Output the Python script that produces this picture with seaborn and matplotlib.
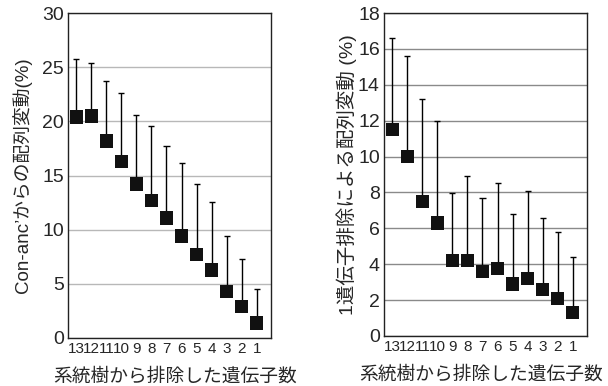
import pandas as pd
import matplotlib
matplotlib.use("Agg")
import matplotlib.pyplot as plt
import seaborn as sns

# removed gene count (x categories, left to right)
genes = ["13", "12", "11", "10", "9", "8", "7", "6", "5", "4", "3", "2", "1"]

# left panel: variation from Con-anc (%)
left_mean = [20.4, 20.5, 18.2, 16.3, 14.2, 12.7, 11.1, 9.4, 7.7, 6.3, 4.3, 2.9, 1.4]
left_top = [25.8, 25.4, 23.7, 22.6, 20.6, 19.6, 17.7, 16.2, 14.2, 12.6, 9.4, 7.3, 4.5]

# right panel: variation per single gene removal (%)
right_mean = [11.5, 10.0, 7.5, 6.3, 4.2, 4.2, 3.6, 3.75, 2.9, 3.2, 2.6, 2.1, 1.3]
right_top = [16.6, 15.6, 13.2, 12.0, 7.95, 8.9, 7.7, 8.55, 6.8, 8.1, 6.6, 5.8, 4.4]

sns.set_style("white")
plt.rcParams['font.family'] = ['Liberation Sans', 'Noto Sans CJK JP', 'DejaVu Sans']

fig = plt.figure(figsize=(6.08, 3.86), dpi=100)
W, H = 608, 386
ax1 = fig.add_axes([68 / W, 1 - 338 / H, 203 / W, 325 / H])
ax2 = fig.add_axes([384 / W, 1 - 336 / H, 203 / W, 323 / H])


def panel(ax, mean, top, ymax, step, gridcol, ylabel, ylab_x, ylab_size, xlab_x):
    df = pd.DataFrame({"n": genes, "mean": mean, "top": top})
    df["pos"] = range(len(df))
    ax.set_axisbelow(True)
    ax.yaxis.grid(True, color=gridcol, lw=1.0)
    ax.vlines(df["pos"], df["mean"], df["top"], color="black", lw=1.0, zorder=2)
    ax.hlines(df["top"], df["pos"] - 0.2, df["pos"] + 0.2, color="black", lw=1.0, zorder=2)
    sns.scatterplot(data=df, x="pos", y="mean", marker="s", s=95, color="#111111",
                    edgecolor="none", ax=ax, zorder=3)
    ax.set_xlim(-0.55, 12.95)
    ax.set_ylim(0, ymax)
    ax.set_yticks(range(0, ymax + 1, step))
    ax.set_xticks(df["pos"])
    ax.set_xticklabels(df["n"])
    ax.tick_params(axis="y", length=0, labelsize=14, pad=3)
    ax.tick_params(axis="x", length=0, labelsize=11, pad=3)
    ax.set_xlabel("系統樹から排除した遺伝子数", fontsize=13.5)
    ax.xaxis.set_label_coords(xlab_x, -0.12)
    ax.xaxis.label.set_va("center")
    ax.set_ylabel(ylabel, fontsize=ylab_size)
    ax.yaxis.set_label_coords(ylab_x, 0.5)
    ax.yaxis.label.set_va("center")
    for sp in ax.spines.values():
        sp.set_visible(True)
        sp.set_color("#222222")
        sp.set_linewidth(1.0)


panel(ax1, left_mean, left_top, 30, 5, "#b8b8b8", "Con-anc’からの配列変動(%)",
      -0.227, 13.5, 0.53)
panel(ax2, right_mean, right_top, 18, 2, "#8a8a8a", "1遺伝子排除による配列変動 (%)",
      -0.182, 14, 0.48)

fig.savefig("out.png", dpi=100)
